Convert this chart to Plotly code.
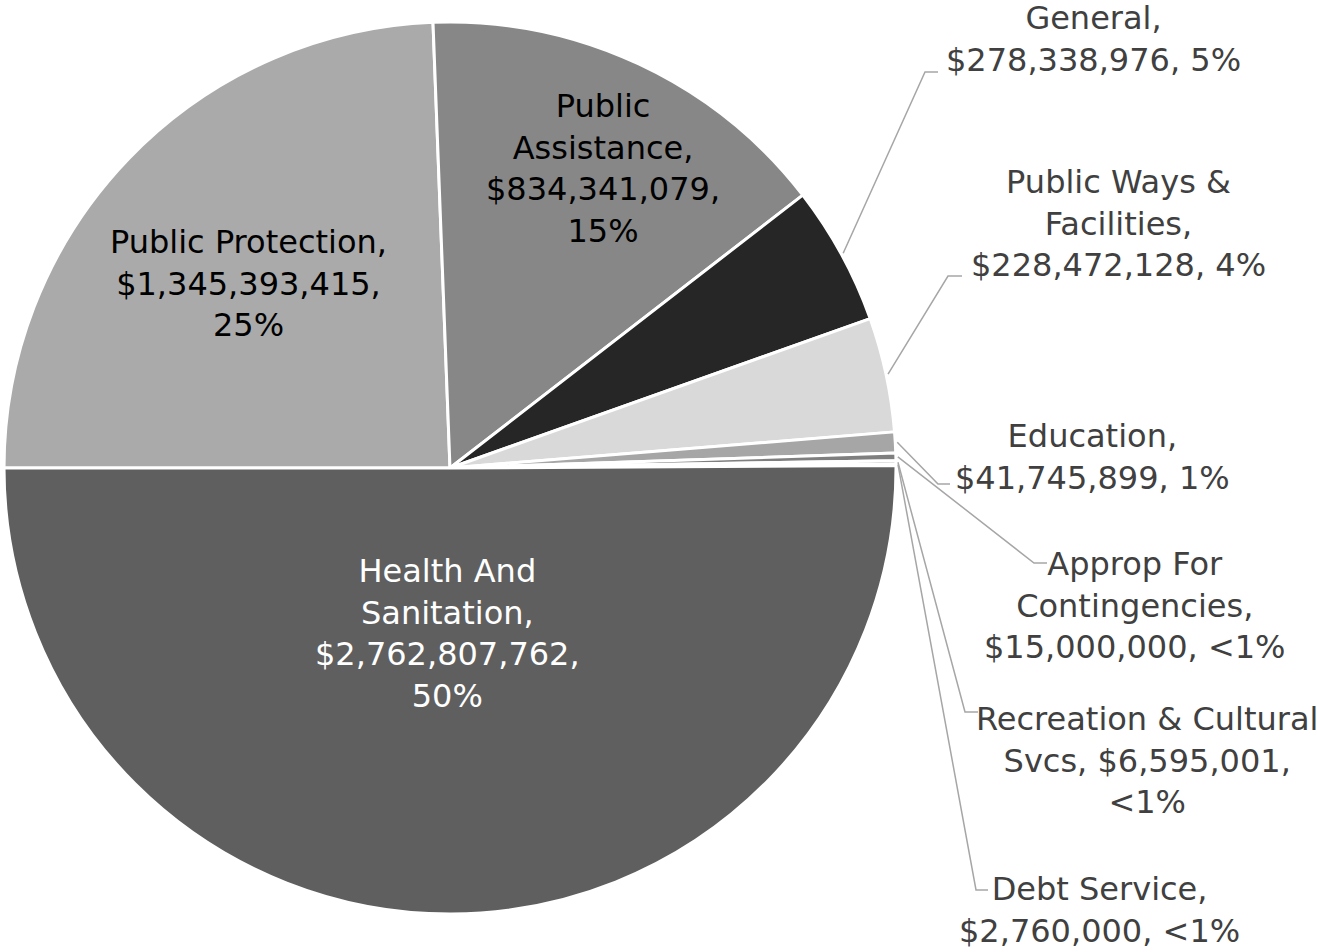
import math
import plotly.graph_objects as go

# ---- data ----
categories = ["Public Protection", "Public Assistance", "General", "Public Ways & Facilities",
              "Education", "Approp For Contingencies", "Recreation & Cultural Svcs",
              "Debt Service", "Health And Sanitation"]
values = [1345393415, 834341079, 278338976, 228472128, 41745899, 15000000, 6595001, 2760000, 2762807762]
pct_labels = ["25%", "15%", "5%", "4%", "1%", "<1%", "<1%", "<1%", "50%"]
colors = ["#AAAAAA", "#878787", "#262626", "#D9D9D9", "#A6A6A6", "#7F7F7F", "#3F3F3F", "#C8C8C8", "#5F5F5F"]

# label line-break layout: name lines, separator name->value, separator value->pct
name_lines = ["Public Protection", "Public<br>Assistance", "General", "Public Ways &amp;<br>Facilities",
              "Education", "Approp For<br>Contingencies", "Recreation &amp; Cultural<br>Svcs",
              "Debt Service", "Health And<br>Sanitation"]
sep1 = [",<br>", ",<br>", ",<br>", ",<br>", ",<br>", ",<br>", ", ", ",<br>", ",<br>"]
sep2 = [",<br>", ",<br>", ", ", ", ", ", ", ", ", ",<br>", ", ", ",<br>"]

W, H = 1317, 952
cx, cy, R = 450, 468, 446  # pie geometry in px

# label placement (px): center of text block
label_pos = [(248, 283), (603, 168), (1093, 39), (1118, 223), (1092, 457),
             (1135, 605), (1147, 760), (1099, 910), (447, 633)]
text_colors = ["#000000", "#000000", "#404040", "#404040", "#404040", "#404040", "#404040", "#404040", "#FFFFFF"]
# leader elbows (px) for outside labels: (elbow x, elbow y, end x)
leaders = {2: (925, 72, 938), 3: (948, 276, 962), 4: (938, 484, 950),
           5: (1034, 563, 1047), 6: (965, 712, 978), 7: (976, 890, 988)}

def px(x):
    return x / W

def py(y):
    return 1 - y / H

fig = go.Figure(go.Pie(
    labels=categories, values=values, sort=False, direction="clockwise", rotation=270,
    marker=dict(colors=colors, line=dict(color="white", width=3)),
    textinfo="none", hoverinfo="label+value+percent", showlegend=False,
    domain=dict(x=[px(cx - R), px(cx + R)], y=[py(cy + R), py(cy - R)]),
))

annotations = []
for i, name in enumerate(name_lines):
    txt = f"{name}{sep1[i]}${values[i]:,}{sep2[i]}{pct_labels[i].replace('<', '&lt;')}"
    x, y = label_pos[i]
    annotations.append(dict(x=px(x), y=py(y), xref="paper", yref="paper", text=txt,
                            showarrow=False, xanchor="center", yanchor="middle", align="center",
                            font=dict(family="DejaVu Sans", size=32, color=text_colors[i])))

# leader lines starting from slice mid angles
total = sum(values)
shapes = []
ang = 270.0
for i, v in enumerate(values):
    span = v / total * 360.0
    mid = math.radians(ang + span / 2)
    ang += span
    if i in leaders:
        sx = cx + (R + 2) * math.sin(mid)
        sy = cy - (R + 2) * math.cos(mid)
        ex, ey, endx = leaders[i]
        path = f"M {px(sx)} {py(sy)} L {px(ex)} {py(ey)} L {px(endx)} {py(ey)}"
        shapes.append(dict(type="path", xref="paper", yref="paper", path=path,
                           line=dict(color="#A6A6A6", width=1.5)))

fig.update_layout(width=W, height=H, margin=dict(l=0, r=0, t=0, b=0),
                  paper_bgcolor="white", plot_bgcolor="white",
                  annotations=annotations, shapes=shapes)
fig.write_html("out.html", config={"displayModeBar": False},
               post_script="document.body.style.margin='0';document.body.style.padding='0';"
                           "document.body.style.overflow='hidden';")
